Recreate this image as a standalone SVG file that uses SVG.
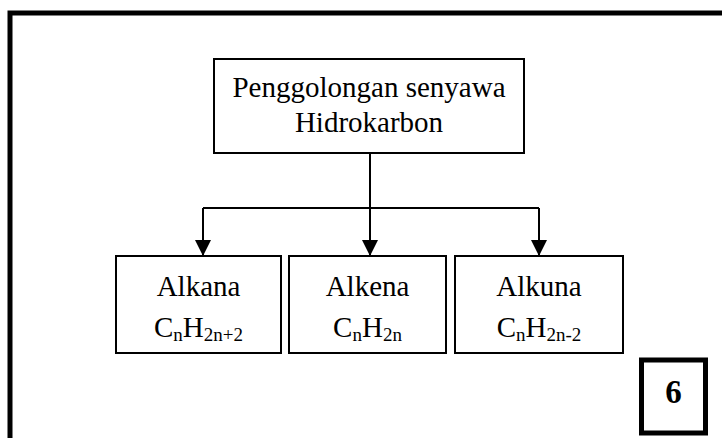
<svg xmlns="http://www.w3.org/2000/svg" width="722" height="438" viewBox="0 0 722 438">
  <style>
    .box { fill: #fff; stroke: #000; stroke-width: 2; }
    .lbl { font-family: "Liberation Serif", "Times New Roman", serif; font-size: 29px; fill: #000; text-anchor: middle; }
    .sub { font-size: 19px; }
    .wire { fill: none; stroke: #000; stroke-width: 2; }
  </style>
  <defs>
    <marker id="arrow" markerUnits="userSpaceOnUse" markerWidth="16" markerHeight="16" viewBox="0 0 16 16" refX="16" refY="8" orient="auto">
      <path d="M0,0 L16,8 L0,16 Z" fill="#000"/>
    </marker>
  </defs>

  <rect width="722" height="438" fill="#fff"/>

  <!-- outer frame, runs off the right and bottom edges -->
  <rect id="frame" x="10" y="13" width="760" height="480" fill="none" stroke="#000" stroke-width="5"/>

  <!-- connectors -->
  <g id="connectors">
    <path class="wire" d="M370,153 V208"/>
    <path class="wire" d="M203,208 H539"/>
    <path class="wire" d="M203,208 V256" marker-end="url(#arrow)"/>
    <path class="wire" d="M370,208 V256" marker-end="url(#arrow)"/>
    <path class="wire" d="M539,208 V256" marker-end="url(#arrow)"/>
  </g>

  <g id="root">
    <rect class="box" x="214" y="59" width="310" height="94"/>
    <text class="lbl" x="369" y="97">Penggolongan senyawa</text>
    <text class="lbl" x="369" y="132">Hidrokarbon</text>
  </g>

  <g id="alkana">
    <rect class="box" x="116" y="256" width="165" height="97"/>
    <text class="lbl" x="198.5" y="296">Alkana</text>
    <text class="lbl" x="198.5" y="337">C<tspan class="sub" dy="4">n</tspan><tspan dy="-4">H</tspan><tspan class="sub" dy="4">2n+2</tspan></text>
  </g>

  <g id="alkena">
    <rect class="box" x="289" y="256" width="157" height="97"/>
    <text class="lbl" x="367.5" y="296">Alkena</text>
    <text class="lbl" x="367.5" y="337">C<tspan class="sub" dy="4">n</tspan><tspan dy="-4">H</tspan><tspan class="sub" dy="4">2n</tspan></text>
  </g>

  <g id="alkuna">
    <rect class="box" x="455" y="256" width="168" height="97"/>
    <text class="lbl" x="539" y="296">Alkuna</text>
    <text class="lbl" x="539" y="337">C<tspan class="sub" dy="4">n</tspan><tspan dy="-4">H</tspan><tspan class="sub" dy="4">2n-2</tspan></text>
  </g>

  <g id="page-number">
    <rect x="641.5" y="360" width="64" height="73" fill="#fff" stroke="#000" stroke-width="5"/>
    <text x="673.5" y="403" font-family="Liberation Serif, Times New Roman, serif" font-size="33" font-weight="bold" text-anchor="middle">6</text>
  </g>
</svg>
